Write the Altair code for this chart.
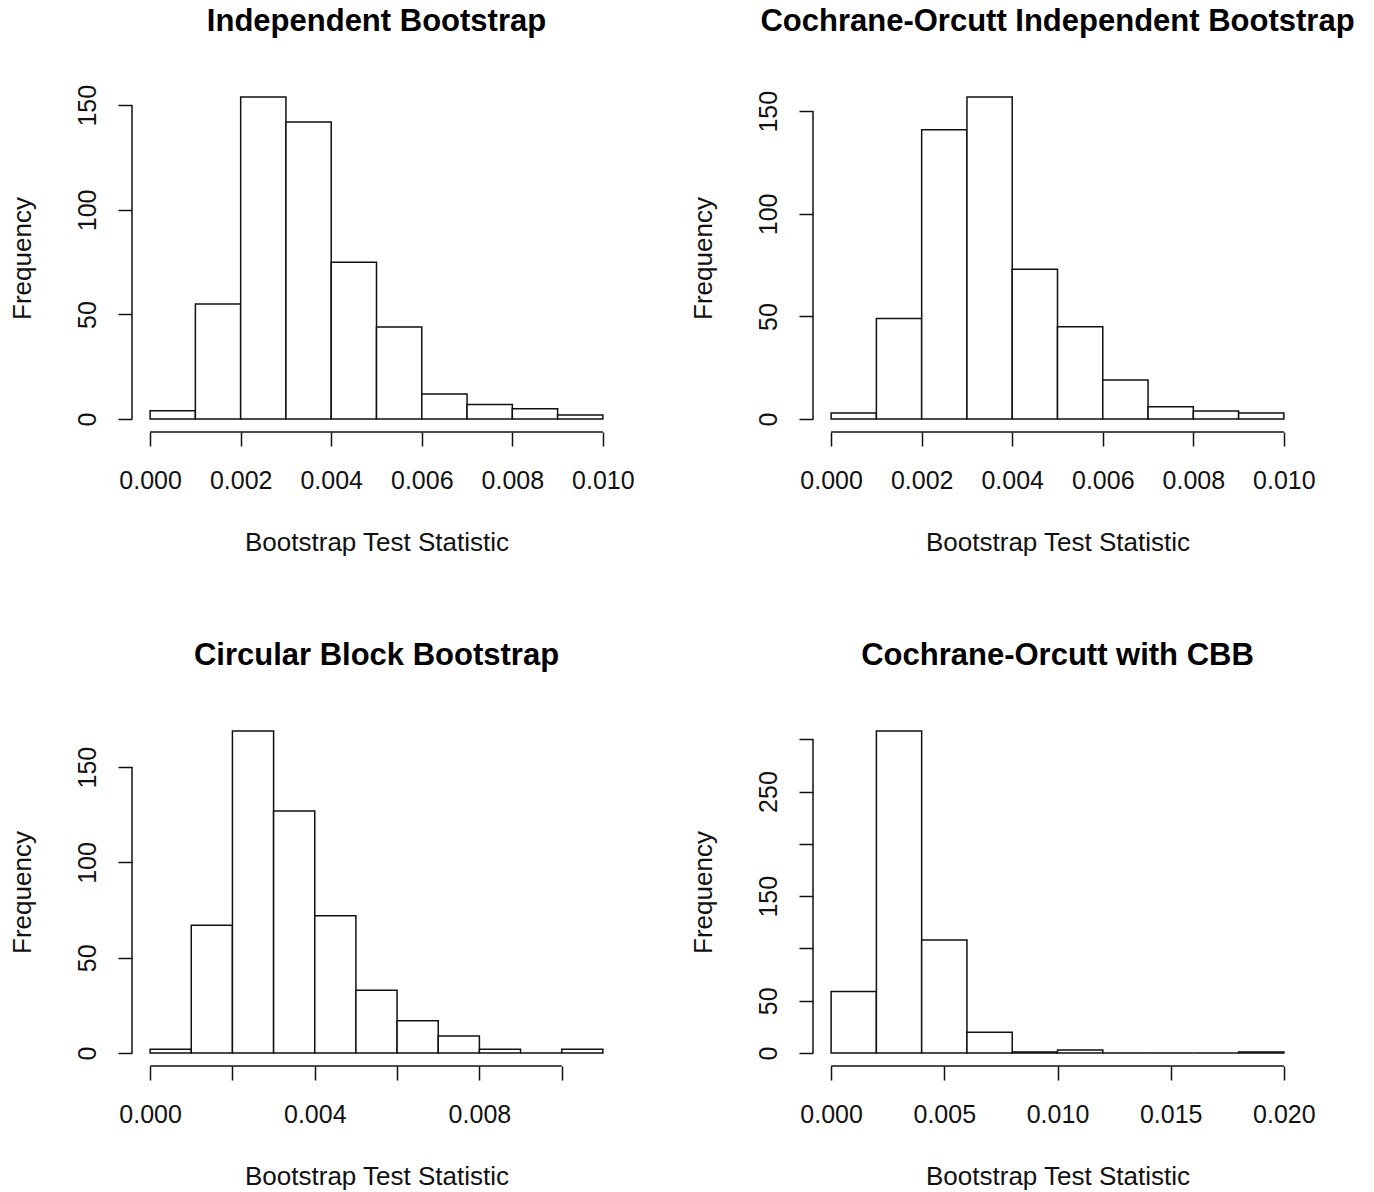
import altair as alt
import pandas as pd

# ---------------- data ----------------
titles = [
    "Independent Bootstrap",
    "Cochrane-Orcutt Independent Bootstrap",
    "Circular Block Bootstrap",
    "Cochrane-Orcutt with CBB",
]

edges_ib = [0.000, 0.001, 0.002, 0.003, 0.004, 0.005, 0.006, 0.007, 0.008, 0.009, 0.010]
counts_ib = [4, 55, 154, 142, 75, 44, 12, 7, 5, 2]

edges_coib = [0.000, 0.001, 0.002, 0.003, 0.004, 0.005, 0.006, 0.007, 0.008, 0.009, 0.010]
counts_coib = [3, 49, 141, 157, 73, 45, 19, 6, 4, 3]

edges_cbb = [0.000, 0.001, 0.002, 0.003, 0.004, 0.005, 0.006, 0.007, 0.008, 0.009, 0.010, 0.011]
counts_cbb = [2, 67, 169, 127, 72, 33, 17, 9, 2, 0, 2]

edges_cocbb = [0.000, 0.002, 0.004, 0.006, 0.008, 0.010, 0.012, 0.014, 0.016, 0.018, 0.020]
counts_cocbb = [59, 308, 108, 20, 1, 3, 0, 0, 0, 1]

xticks_a = [0.000, 0.002, 0.004, 0.006, 0.008, 0.010]
xlabels_a = ["0.000", "0.002", "0.004", "0.006", "0.008", "0.010"]
xticks_c = [0.000, 0.002, 0.004, 0.006, 0.008, 0.010]
xlabels_c = ["0.000", "0.004", "0.008"]
xticks_d = [0.000, 0.005, 0.010, 0.015, 0.020]
xlabels_d = ["0.000", "0.005", "0.010", "0.015", "0.020"]

yticks_a = [0, 50, 100, 150]
ylabels_a = ["0", "50", "100", "150"]
yticks_d = [0, 50, 100, 150, 200, 250, 300]
ylabels_d = ["0", "50", "150", "250"]

x_title = "Bootstrap Test Statistic"
y_title = "Frequency"

# ---------------- styling ----------------
FONT = "Liberation Sans"
W, H = 489, 348
LINE = 1.5
INK = "#111111"


def shown_expr(labels):
    arr = ",".join("'%s'" % s for s in labels)
    return "indexof([%s], datum.label) >= 0 ? datum.label : ''" % arr


def panel(title, edges, counts, xticks, xlabels, yticks, ylabels):
    df = pd.DataFrame({"start": edges[:-1], "end": edges[1:], "count": counts})
    x0, x1 = edges[0], edges[-1]
    xpad = 0.04 * (x1 - x0)
    ymax = max(counts)
    ypad = 0.04 * ymax
    xdom = [x0 - xpad, x1 + xpad]
    ydom = [-ypad, ymax + ypad]
    xs = alt.Scale(domain=xdom, nice=False, zero=False)
    ys = alt.Scale(domain=ydom, nice=False, zero=False)

    xaxis = alt.Axis(
        values=xticks, format=".3f", labelExpr=shown_expr(xlabels),
        title=x_title, domain=False, grid=False,
        tickSize=14, labelPadding=22, titlePadding=36,
        labelAngle=0, labelAlign="center", labelBaseline="top",
        labelOverlap=False, labelFlush=False,
    )
    yaxis = alt.Axis(
        values=yticks, format="d", labelExpr=shown_expr(ylabels),
        title=y_title, domain=False, grid=False,
        tickSize=14, labelPadding=18, titlePadding=40,
        labelAngle=270, labelAlign="center", labelBaseline="bottom",
        labelOverlap=False, labelFlush=False,
    )

    bars = alt.Chart(df).mark_bar(
        fill="white", stroke=INK, strokeWidth=LINE, cornerRadius=0
    ).encode(
        x=alt.X("start:Q", scale=xs, axis=xaxis, title=x_title),
        x2="end:Q",
        y=alt.Y("count:Q", scale=ys, axis=yaxis, title=y_title),
        y2=alt.datum(0),
    )

    xaxis_df = pd.DataFrame({"start": [xticks[0]], "end": [xticks[-1]], "count": [ydom[0]]})
    xrule = alt.Chart(xaxis_df).mark_rule(color=INK, strokeWidth=LINE).encode(
        x=alt.X("start:Q", scale=xs, axis=xaxis, title=x_title),
        x2="end:Q",
        y=alt.Y("count:Q", scale=ys, axis=yaxis, title=y_title),
    )
    yaxis_df = pd.DataFrame({"start": [xdom[0]], "count": [yticks[0]], "top": [yticks[-1]]})
    yrule = alt.Chart(yaxis_df).mark_rule(color=INK, strokeWidth=LINE).encode(
        x=alt.X("start:Q", scale=xs, axis=xaxis, title=x_title),
        y=alt.Y("count:Q", scale=ys, axis=yaxis, title=y_title),
        y2="top:Q",
    )

    return alt.layer(bars, xrule, yrule).properties(
        width=W, height=H,
        title=alt.TitleParams(
            text=title, font=FONT, fontSize=31, fontWeight="bold", color="black",
            anchor="middle", frame="group", baseline="alphabetic", offset=22,
        ),
    )


p1 = panel(titles[0], edges_ib, counts_ib, xticks_a, xlabels_a, yticks_a, ylabels_a)
p2 = panel(titles[1], edges_coib, counts_coib, xticks_a, xlabels_a, yticks_a, ylabels_a)
p3 = panel(titles[2], edges_cbb, counts_cbb, xticks_c, xlabels_c, yticks_a, ylabels_a)
p4 = panel(titles[3], edges_cocbb, counts_cocbb, xticks_d, xlabels_d, yticks_d, ylabels_d)

chart = alt.concat(
    p1, p2, p3, p4, columns=2,
    spacing={"row": 286, "column": 192},
    bounds="flush",
).properties(
    padding={"left": 8, "top": 6, "right": 10, "bottom": 6},
    background="white",
).configure_view(
    stroke=None
).configure_axis(
    labelFont=FONT, titleFont=FONT, labelFontSize=25, titleFontSize=26,
    labelColor=INK, titleColor=INK, titleFontWeight="normal",
    tickColor=INK, tickWidth=LINE,
)

chart.save("out.html", embed_options={"renderer": "svg", "actions": False})
